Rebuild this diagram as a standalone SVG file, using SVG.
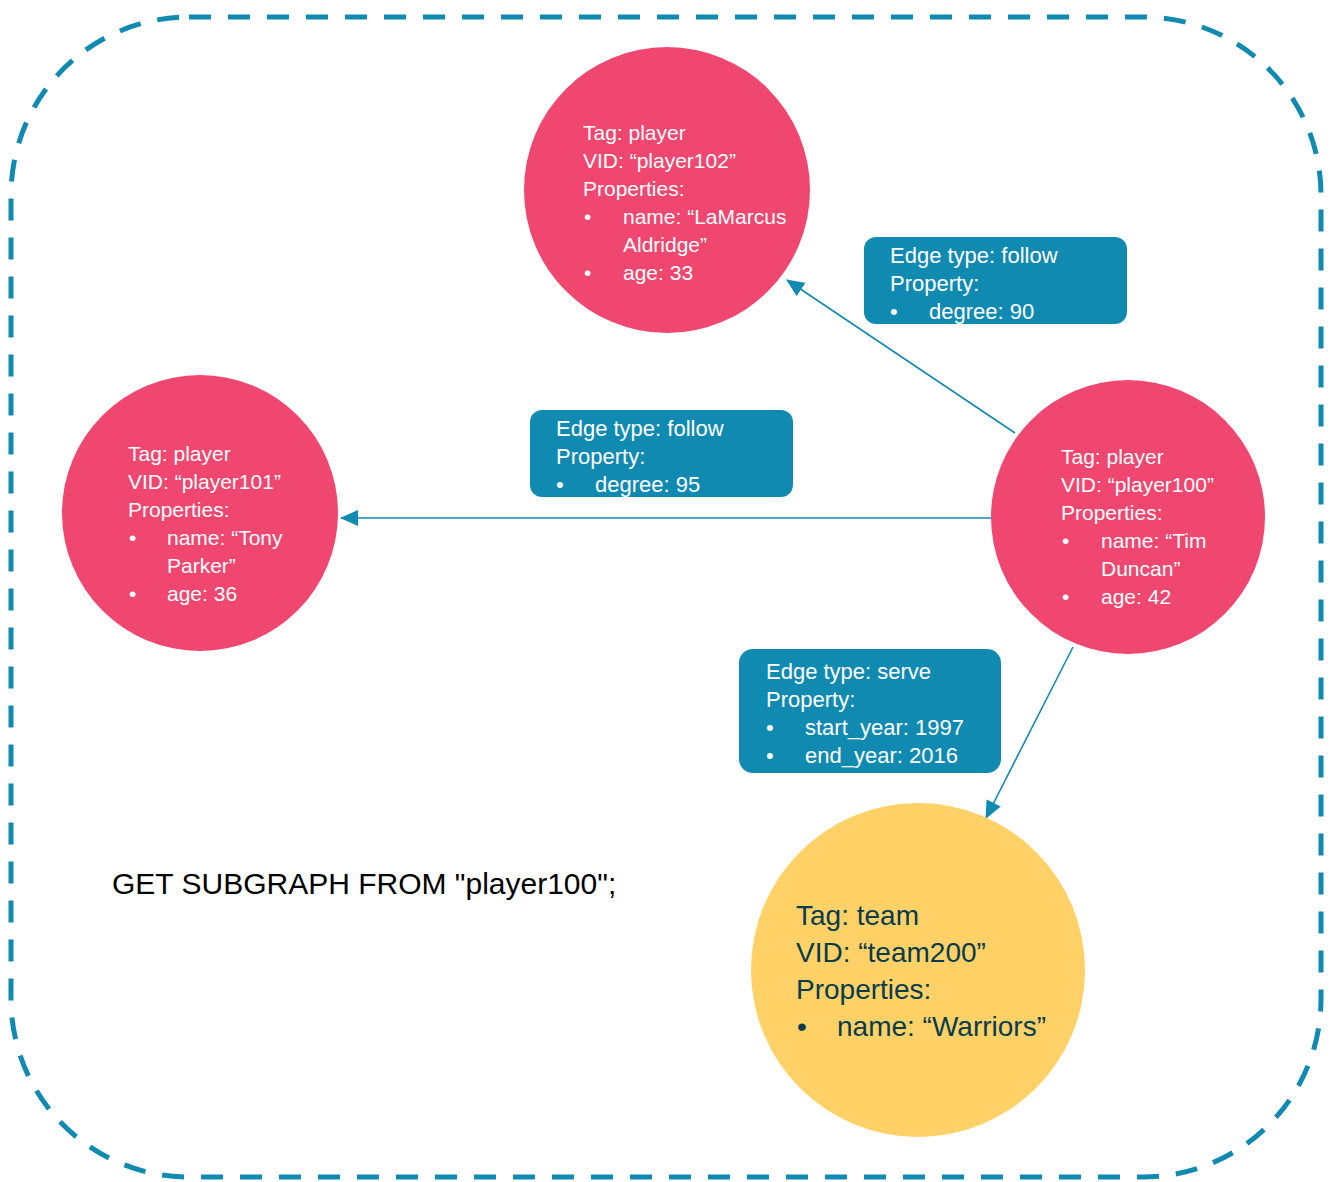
<svg xmlns="http://www.w3.org/2000/svg" width="1332" height="1182" viewBox="0 0 1332 1182">
  <style>
    .player { fill: #EF476F; }
    .team { fill: #FFD166; }
    .ntext { font-family: "Liberation Sans", Arial, sans-serif; font-size: 21px; fill: #FFFFFF; }
    .ttext { font-family: "Liberation Sans", Arial, sans-serif; font-size: 28px; fill: #073B4C; }
    .ebox { fill: #118AB2; }
    .etext { font-family: "Liberation Sans", Arial, sans-serif; font-size: 22px; fill: #FFFFFF; }
    .edge { stroke: #118AB2; stroke-width: 1.6; fill: none; }
    .query { font-family: "Liberation Sans", Arial, sans-serif; font-size: 30px; fill: #000000; }
  </style>
  <defs>
    <marker id="arrow" viewBox="0 0 18 16" refX="17" refY="8" markerWidth="18" markerHeight="16" markerUnits="userSpaceOnUse" orient="auto">
      <path d="M0,0 L18,8 L0,16 Z" fill="#118AB2"/>
    </marker>
  </defs>
  <rect width="1332" height="1182" fill="#FFFFFF"/>
  <rect x="11" y="17" width="1310" height="1160" rx="178" ry="178" fill="none" stroke="#118AB2" stroke-width="5" stroke-dasharray="22 17"/>

  <g id="connectors">
    <line class="edge" x1="1015" y1="433" x2="787" y2="280" marker-end="url(#arrow)"/>
    <line class="edge" x1="991" y1="518" x2="341" y2="518" marker-end="url(#arrow)"/>
    <line class="edge" x1="1073" y1="647" x2="986" y2="818" marker-end="url(#arrow)"/>
  </g>

  <g id="label-follow-90">
    <rect class="ebox" x="864" y="237" width="263" height="87" rx="12" ry="12"/>
    <text class="etext" x="890" y="263">Edge type: follow</text>
    <text class="etext" x="890" y="291">Property:</text>
    <text class="etext" x="890" y="319">•</text>
    <text class="etext" x="929" y="319">degree: 90</text>
  </g>
  <g id="label-follow-95">
    <rect class="ebox" x="530" y="410" width="263" height="87" rx="12" ry="12"/>
    <text class="etext" x="556" y="436">Edge type: follow</text>
    <text class="etext" x="556" y="464">Property:</text>
    <text class="etext" x="556" y="492">•</text>
    <text class="etext" x="595" y="492">degree: 95</text>
  </g>
  <g id="label-serve">
    <rect class="ebox" x="739" y="649" width="262" height="124" rx="14" ry="14"/>
    <text class="etext" x="766" y="679">Edge type: serve</text>
    <text class="etext" x="766" y="707">Property:</text>
    <text class="etext" x="766" y="735">•</text>
    <text class="etext" x="805" y="735">start_year: 1997</text>
    <text class="etext" x="766" y="763">•</text>
    <text class="etext" x="805" y="763">end_year: 2016</text>
  </g>

  <g id="player102">
    <circle class="player" cx="667" cy="190" r="143"/>
    <text class="ntext" x="583" y="140">Tag: player</text>
    <text class="ntext" x="583" y="168">VID: “player102”</text>
    <text class="ntext" x="583" y="196">Properties:</text>
    <text class="ntext" x="584" y="224">•</text>
    <text class="ntext" x="623" y="224">name: “LaMarcus</text>
    <text class="ntext" x="623" y="252">Aldridge”</text>
    <text class="ntext" x="584" y="280">•</text>
    <text class="ntext" x="623" y="280">age: 33</text>
  </g>

  <g id="player101">
    <circle class="player" cx="200" cy="513" r="138"/>
    <text class="ntext" x="128" y="461">Tag: player</text>
    <text class="ntext" x="128" y="489">VID: “player101”</text>
    <text class="ntext" x="128" y="517">Properties:</text>
    <text class="ntext" x="129" y="545">•</text>
    <text class="ntext" x="167" y="545">name: “Tony</text>
    <text class="ntext" x="167" y="573">Parker”</text>
    <text class="ntext" x="129" y="601">•</text>
    <text class="ntext" x="167" y="601">age: 36</text>
  </g>

  <g id="player100">
    <circle class="player" cx="1128" cy="517" r="137"/>
    <text class="ntext" x="1061" y="464">Tag: player</text>
    <text class="ntext" x="1061" y="492">VID: “player100”</text>
    <text class="ntext" x="1061" y="520">Properties:</text>
    <text class="ntext" x="1062" y="548">•</text>
    <text class="ntext" x="1101" y="548">name: “Tim</text>
    <text class="ntext" x="1101" y="576">Duncan”</text>
    <text class="ntext" x="1062" y="604">•</text>
    <text class="ntext" x="1101" y="604">age: 42</text>
  </g>

  <g id="team200">
    <circle class="team" cx="918" cy="970" r="167"/>
    <text class="ttext" x="796" y="925">Tag: team</text>
    <text class="ttext" x="796" y="962">VID: “team200”</text>
    <text class="ttext" x="796" y="999">Properties:</text>
    <text class="ttext" x="797" y="1036">•</text>
    <text class="ttext" x="837" y="1036">name: “Warriors”</text>
  </g>

  <text class="query" x="112" y="894">GET SUBGRAPH FROM "player100";</text>
</svg>
